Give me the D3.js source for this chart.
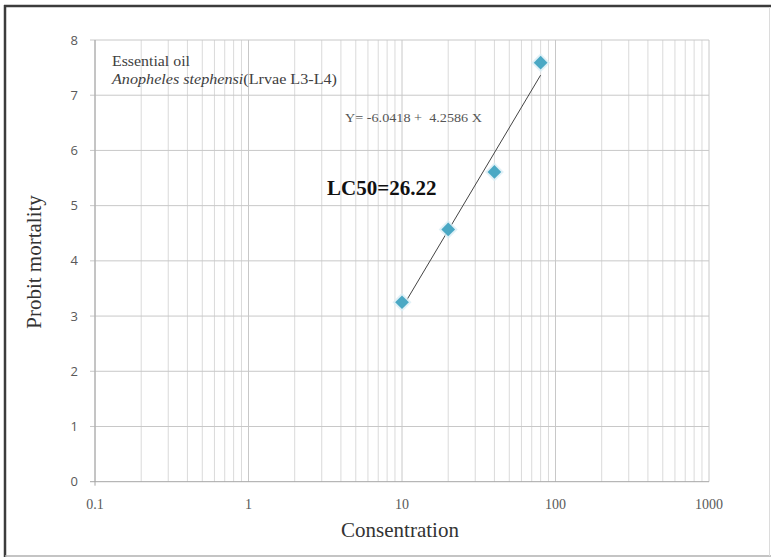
<!DOCTYPE html>
<html>
<head>
<meta charset="utf-8">
<script src="https://cdn.jsdelivr.net/npm/d3@7"></script>
<style>
  body { margin: 0; background: #fff; }
</style>
</head>
<body>
<script>
// data
const concentration = [10, 20, 40, 80];
const probit = [3.25, 4.57, 5.61, 7.59];
const xTicks = [0.1, 1, 10, 100, 1000];
const yTicks = [0, 1, 2, 3, 4, 5, 6, 7, 8];
const equationText = "Y= -6.0418 +  4.2586 X";
const lc50Text = "LC50=26.22";

const w = 771;
const h = 557;

const svg = d3.select("body")
    .append("svg")
    .attr("width", w)
    .attr("height", h);

// outer frame: dark top/left, light right/bottom
svg.append("line").attr("x1", 4).attr("x2", 771).attr("y1", 6).attr("y2", 6)
    .attr("stroke", "#3c3c3c").attr("stroke-width", 2.5);
svg.append("line").attr("x1", 5).attr("x2", 5).attr("y1", 5).attr("y2", 557)
    .attr("stroke", "#3c3c3c").attr("stroke-width", 2.5);
svg.append("line").attr("x1", 5).attr("x2", 771).attr("y1", 556).attr("y2", 556)
    .attr("stroke", "#b0b0b0").attr("stroke-width", 1.5);
svg.append("line").attr("x1", 769.5).attr("x2", 769.5).attr("y1", 7).attr("y2", 556)
    .attr("stroke", "#dcdcdc").attr("stroke-width", 1);

let xScale = d3.scaleLog()
    .domain([0.1, 1000])
    .range([95, 709]);

const yScale = d3.scaleLinear()
    .domain([0, 8])
    .range([481.7, 40]);

// minor + major vertical grid
let minor = [];
for (let d = 0.1; d < 1000; d *= 10) {
    for (let k = 1; k <= 10; k++) minor.push(+(d * k).toPrecision(3));
}
minor = Array.from(new Set(minor));

svg.append("g")
    .selectAll("line")
    .data(minor)
    .enter()
    .append("line")
    .attr("x1", d => xScale(d))
    .attr("x2", d => xScale(d))
    .attr("y1", yScale(0))
    .attr("y2", yScale(8))
    .attr("stroke", d => xTicks.includes(d) ? "#c8c8c8" : "#dadada")
    .attr("stroke-width", 1);

// horizontal grid
svg.append("g")
    .selectAll("line")
    .data(yTicks)
    .enter()
    .append("line")
    .attr("x1", xScale(0.1) - 5)
    .attr("x2", xScale(1000))
    .attr("y1", d => yScale(d))
    .attr("y2", d => yScale(d))
    .attr("stroke", d => d === 0 ? "#a6a6a6" : "#c8c8c8")
    .attr("stroke-width", 1);

// y axis line
svg.append("line")
    .attr("x1", xScale(0.1))
    .attr("x2", xScale(0.1))
    .attr("y1", yScale(0) + 4)
    .attr("y2", yScale(8))
    .attr("stroke", "#a6a6a6");

// y tick labels
svg.append("g")
    .selectAll("text")
    .data(yTicks)
    .enter()
    .append("text")
    .attr("x", 78)
    .attr("y", d => yScale(d))
    .attr("dy", "0.35em")
    .attr("text-anchor", "end")
    .attr("font-family", "'Open Sans', 'Noto Sans', sans-serif")
    .attr("font-size", 13)
    .attr("fill", "#595959")
    .text(d => d);

// x tick labels
svg.append("g")
    .selectAll("text")
    .data(xTicks)
    .enter()
    .append("text")
    .attr("x", d => xScale(d))
    .attr("y", 509)
    .attr("text-anchor", "middle")
    .attr("font-family", "'Liberation Serif', 'DejaVu Serif', serif")
    .attr("font-size", 14)
    .attr("fill", "#595959")
    .text(d => d);

// axis titles
svg.append("text")
    .attr("text-anchor", "middle")
    .attr("transform", "translate(400,537)")
    .attr("font-family", "'Liberation Serif', serif")
    .attr("font-size", 21)
    .attr("fill", "#333")
    .text("Consentration");

svg.append("text")
    .attr("text-anchor", "middle")
    .attr("transform", "translate(41,262)rotate(-90)")
    .attr("font-family", "'Liberation Serif', serif")
    .attr("font-size", 21)
    .attr("fill", "#333")
    .text("Probit mortality");

// least-squares line on log10(x)
const lx = concentration.map(d => Math.log10(d));
const mx = d3.mean(lx), my = d3.mean(probit);
const slope = d3.sum(lx, (d, i) => (d - mx) * (probit[i] - my)) / d3.sum(lx, d => (d - mx) * (d - mx));
const icpt = my - slope * mx;
const fitEnds = [concentration[0], concentration[concentration.length - 1]];

svg.append("line")
    .attr("x1", xScale(fitEnds[0]))
    .attr("y1", yScale(icpt + slope * Math.log10(fitEnds[0])))
    .attr("x2", xScale(fitEnds[1]))
    .attr("y2", yScale(icpt + slope * Math.log10(fitEnds[1])))
    .attr("stroke", "#444")
    .attr("stroke-width", 1);

// markers
const diamond = d3.symbol().type(d3.symbolDiamond2).size(120);
const pts = svg.append("g")
    .selectAll("g")
    .data(concentration)
    .enter()
    .append("g")
    .attr("transform", (d, i) => "translate(" + xScale(d) + "," + yScale(probit[i]) + ")");

pts.append("path")
    .attr("d", d3.symbol().type(d3.symbolDiamond2).size(230))
    .attr("fill", "#d9eef5")
    .attr("opacity", 0.8);

pts.append("path")
    .attr("d", diamond)
    .attr("fill", "#4aa8c4");

// annotations
const noteFont = "'Liberation Serif', serif";
svg.append("text")
    .attr("x", 112)
    .attr("y", 66)
    .attr("font-family", noteFont)
    .attr("font-size", 14)
    .attr("fill", "#404040")
    .attr("textLength", 78)
    .attr("lengthAdjust", "spacingAndGlyphs")
    .text("Essential oil");

const l2 = svg.append("text")
    .attr("x", 112)
    .attr("y", 84)
    .attr("font-family", noteFont)
    .attr("font-size", 14)
    .attr("fill", "#404040")
    .attr("textLength", 225)
    .attr("lengthAdjust", "spacingAndGlyphs");
l2.append("tspan").attr("font-style", "italic").text("Anopheles stephensi");
l2.append("tspan").text("(Lrvae L3-L4)");

svg.append("text")
    .attr("x", 345)
    .attr("y", 122)
    .attr("font-family", noteFont)
    .attr("font-size", 13)
    .attr("fill", "#555")
    .attr("textLength", 137)
    .attr("lengthAdjust", "spacingAndGlyphs")
    .style("white-space", "pre")
    .text(equationText);

svg.append("text")
    .attr("x", 327)
    .attr("y", 195)
    .attr("font-family", noteFont)
    .attr("font-size", 21)
    .attr("font-weight", "bold")
    .attr("fill", "#111")
    .text(lc50Text);
</script>
</body>
</html>
